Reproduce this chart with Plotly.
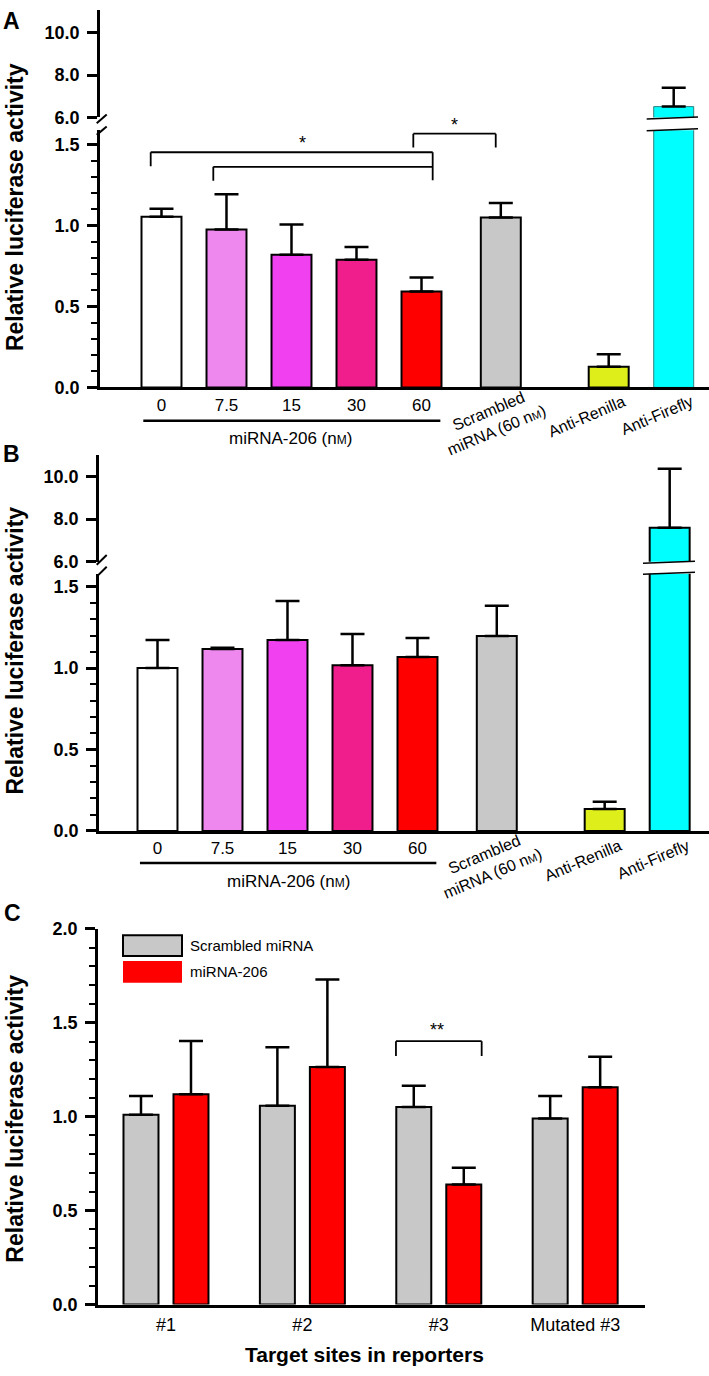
import plotly.graph_objects as go

W, H = 709, 1376

# ---------------- data ----------------
conc_labels = ["0", "7.5", "15", "30", "60"]
control_labels = ["Scrambled<br>miRNA (60 n<span style='font-size:11px'>M</span>)",
                  "Anti-Renilla", "Anti-Firefly"]
bar_colors = ["#FFFFFF", "#EE88EE", "#F040F0", "#F01E8C", "#FF0000",
              "#C8C8C8", "#DDEE1A", "#00FFFF"]

a_values = [1.055, 0.977, 0.821, 0.790, 0.593, 1.050, 0.128, 6.51]
a_errors = [0.050, 0.218, 0.187, 0.078, 0.087, 0.090, 0.077, 0.89]

b_values = [1.000, 1.117, 1.173, 1.018, 1.068, 1.197, 0.135, 7.60]
b_errors = [0.173, 0.008, 0.239, 0.192, 0.117, 0.186, 0.044, 2.76]

c_sites = ["#1", "#2", "#3", "Mutated #3"]
c_scrambled = [1.010, 1.058, 1.052, 0.990]
c_scrambled_err = [0.100, 0.312, 0.112, 0.120]
c_mirna = [1.119, 1.264, 0.639, 1.157]
c_mirna_err = [0.284, 0.466, 0.089, 0.162]

# ---------------- layout helpers ----------------
slots = [0, 1, 2, 3, 4, 5.22, 6.88, 7.88]   # bar slot positions in panels A/B
FONT = "Liberation Sans, Arial, sans-serif"


def px(x):
    return x / W


def py(y):
    return 1 - y / H


def yax(domain, rng, tickvals, anchor, minor=True):
    d = dict(domain=domain, range=rng, anchor=anchor, tickvals=tickvals,
             tickformat=".1f", showline=True, linecolor="black", linewidth=2.5,
             ticks="outside", ticklen=10, tickwidth=2.5, tickcolor="black",
             showgrid=False, zeroline=False, ticklabelstandoff=4,
             tickfont=dict(family=FONT, size=18, color="black", weight="bold"))
    if minor:
        d["minor"] = dict(dtick=0.1, ticks="outside", ticklen=6, tickwidth=2,
                          tickcolor="black", showgrid=False)
    return d


def xax(domain, rng, anchor, tickvals, ticktext, size, **kw):
    d = dict(domain=domain, range=rng, anchor=anchor, showline=True,
             linecolor="black", linewidth=2.5, ticks="", ticklen=0, showgrid=False,
             zeroline=False, tickvals=tickvals, ticktext=ticktext,
             tickfont=dict(family=FONT, size=size, color="black"))
    d.update(kw)
    return d


def err(values):
    return dict(type="data", array=values, arrayminus=[0] * len(values),
                symmetric=False, color="black", thickness=2.5, width=12)


fig = go.Figure()

labels_all = conc_labels + ["Scrambled miRNA (60 nM)", "Anti-Renilla", "Anti-Firefly"]

# Panel A (lower and upper segments)
a_line_w = [2, 2, 2, 2, 2, 2, 2, 1]
a_line_c = ["black"] * 7 + ["#2F7F7F"]
for yref in ["y", "y2"]:
    fig.add_trace(go.Bar(x=slots, y=a_values, width=0.615, xaxis="x", yaxis=yref,
                         marker=dict(color=bar_colors,
                                     line=dict(color=a_line_c, width=a_line_w)),
                         error_y=err(a_errors), hovertext=labels_all,
                         showlegend=False))
# Panel B
for yref in ["y3", "y4"]:
    fig.add_trace(go.Bar(x=slots, y=b_values, width=0.615, xaxis="x2", yaxis=yref,
                         marker=dict(color=bar_colors,
                                     line=dict(color="black", width=2)),
                         error_y=err(b_errors), hovertext=labels_all,
                         showlegend=False))
# Panel C
fig.add_trace(go.Bar(x=c_sites, y=c_scrambled, name="Scrambled miRNA",
                     xaxis="x3", yaxis="y5", width=0.2566, offset=-0.3116,
                     marker=dict(color="#C8C8C8", line=dict(color="black", width=2)),
                     error_y=err(c_scrambled_err), showlegend=False))
fig.add_trace(go.Bar(x=c_sites, y=c_mirna, name="miRNA-206",
                     xaxis="x3", yaxis="y5", width=0.2566, offset=0.055,
                     marker=dict(color="#FF0000", line=dict(color="black", width=2)),
                     error_y=err(c_mirna_err), showlegend=False))

layout = dict(
    width=W, height=H, margin=dict(l=0, r=0, t=0, b=0),
    paper_bgcolor="white", plot_bgcolor="rgba(0,0,0,0)",
    font=dict(family=FONT, color="black"),
    barmode="overlay", showlegend=False,
    xaxis=xax([px(100), 1], [-0.946, 8.423], "y", slots[:5], conc_labels, 17,
              ticklabelstandoff=0),
    yaxis=yax([py(383), py(122)], [0, 1.59], [0, 0.5, 1.0, 1.5], "x"),
    yaxis2=yax([py(109), 1], [6, 11.07], [6, 8, 10], "x", minor=False),
    xaxis2=xax([px(99), 1], [-0.9, 8.485], "y3", slots[:5], conc_labels, 17,
               ticklabelstandoff=0),
    yaxis3=yax([py(833), py(572)], [0, 1.58], [0, 0.5, 1.0, 1.5], "x2"),
    yaxis4=yax([py(560), py(451.7)], [6, 11.0], [6, 8, 10], "x2", minor=False),
    xaxis3=xax([px(98), px(645)], [-0.4985, 3.512], "y5", c_sites, c_sites, 18,
               type="category", ticklabelstandoff=2),
    yaxis5=yax([py(1313.7), py(932.3)], [0, 2.0], [0, 0.5, 1.0, 1.5, 2.0], "x3"),
)
fig.update_layout(**layout)

shapes = []
ann = []


def pline(x0, y0, x1, y1, w=2, color="black"):
    shapes.append(dict(type="line", xref="paper", yref="paper",
                       x0=px(x0), y0=py(y0), x1=px(x1), y1=py(y1),
                       line=dict(color=color, width=w)))


def dline(xr, yr, x0, y0, x1, y1, w=1.8):
    shapes.append(dict(type="line", xref=xr, yref=yr, x0=x0, y0=y0, x1=x1, y1=y1,
                       line=dict(color="black", width=w)))


def text(x, y, s, size, bold=False, angle=0, xanchor="center", yanchor="middle"):
    ann.append(dict(xref="paper", yref="paper", x=px(x), y=py(y), text=s,
                    showarrow=False, textangle=angle, xanchor=xanchor,
                    yanchor=yanchor,
                    font=dict(family=FONT, size=size, color="black",
                              weight="bold" if bold else "normal")))


# ---- Panel A decorations ----
pline(96.7, 115, 106.7, 106, 2)
pline(96.7, 126.7, 106.7, 118.3, 2)
pline(646.7, 110.5, 698, 108.5, 1.5)
pline(646.7, 122.5, 698, 120.5, 1.5)
dline("x", "y", -0.166, 1.368, -0.166, 1.454)
dline("x", "y", -0.166, 1.454, 4.172, 1.454)
dline("x", "y", 4.172, 1.454, 4.172, 1.281)
dline("x", "y", 0.797, 1.277, 0.797, 1.364)
dline("x", "y", 0.797, 1.364, 4.172, 1.364)
dline("x", "y", 3.874, 1.484, 3.874, 1.569)
dline("x", "y", 3.874, 1.569, 5.142, 1.569)
dline("x", "y", 5.142, 1.569, 5.142, 1.484)
text(302, 135, "*", 18)
text(454.3, 117, "*", 18)
dline("x", "paper", -0.28, py(416.7), 4.29, py(416.7), 2.5)
text(290, 435, "miRNA-206 (n<span style='font-size:12px'>M</span>)", 17)
text(492, 417, control_labels[0], 16, angle=-23)
text(586.7, 413, control_labels[1], 16, angle=-23)
text(656.7, 411.7, control_labels[2], 16, angle=-23)
text(15, 200, "Relative luciferase activity", 23, bold=True, angle=-90)
text(11, 11, "A", 23, bold=True)

# ---- Panel B decorations ----
pline(96.7, 563, 106.7, 553, 2)
pline(96.7, 575, 106.7, 565, 2)
pline(643, 561.5, 695, 559.5, 1.5)
pline(643, 572.5, 695, 570.5, 1.5)
dline("x2", "paper", -0.27, py(865.7), 4.29, py(865.7), 2.5)
text(288, 884, "miRNA-206 (n<span style='font-size:12px'>M</span>)", 17)
text(488.5, 867, control_labels[0], 16, angle=-23)
text(583, 863, control_labels[1], 16, angle=-23)
text(653, 862, control_labels[2], 16, angle=-23)
text(15, 650, "Relative luciferase activity", 23, bold=True, angle=-90)
text(11, 451, "B", 23, bold=True)

# ---- Panel C decorations ----
dline("x3", "y5", 1.686, 1.323, 1.686, 1.4016)
dline("x3", "y5", 1.686, 1.4016, 2.3145, 1.4016)
dline("x3", "y5", 2.3145, 1.4016, 2.3145, 1.323)
text(436.7, 1035, "**", 18)
shapes.append(dict(type="rect", xref="paper", yref="paper",
                   x0=px(123), y0=py(960), x1=px(182), y1=py(939),
                   fillcolor="#C8C8C8", line=dict(color="black", width=2)))
shapes.append(dict(type="rect", xref="paper", yref="paper",
                   x0=px(123), y0=py(987), x1=px(182), y1=py(965),
                   fillcolor="#FF0000", line=dict(width=0)))
text(188, 949.5, "Scrambled miRNA", 15, xanchor="left")
text(188, 976, "miRNA-206", 15, xanchor="left")
text(364, 1364, "Target sites in reporters", 21, bold=True)
text(15, 1125, "Relative luciferase activity", 23, bold=True, angle=-90)
text(12, 916, "C", 23, bold=True)

fig.update_layout(shapes=shapes, annotations=ann)
fig.write_html("out.html",
               config={"displayModeBar": False},
               post_script="document.body.style.margin='0';"
                           "document.body.style.overflow='hidden';")
